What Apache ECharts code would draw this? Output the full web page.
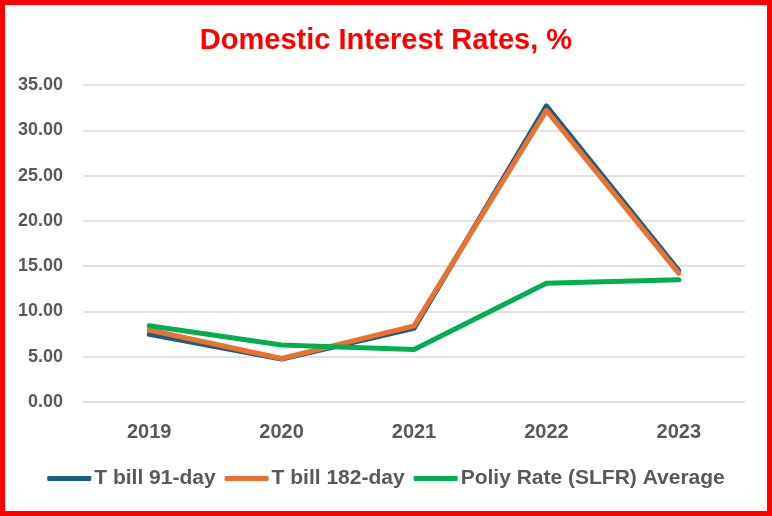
<!DOCTYPE html>
<html><head><meta charset="utf-8">
<script src="https://cdn.jsdelivr.net/npm/echarts@6/dist/echarts.min.js"></script>
<style>html,body{margin:0;padding:0;background:#fff}#c{width:772px;height:516px}</style>
</head><body><div id="c"></div>
<script>
const categories = ['2019','2020','2021','2022','2023'];
const tbill91 = [7.47, 4.75, 8.13, 32.7, 14.5];
const tbill182 = [7.95, 4.8, 8.4, 32.2, 14.2];
const slfr = [8.42, 6.29, 5.8, 13.1, 13.5];
const yTicks = {min: 0, max: 35, interval: 5};

const chart = echarts.init(document.getElementById('c'));
const sans = '"Liberation Sans", Arial, sans-serif';
const mk = (name, data, color) => ({
  name, type: 'line', data, symbol: 'none', smooth: false,
  lineStyle: {width: 5, color, cap: 'round', join: 'round'}, itemStyle: {color}
});
chart.setOption({
  animation: false,
  backgroundColor: '#fff',
  title: {text: 'Domestic Interest Rates, %', left: 'center', top: 21,
    textStyle: {color: '#FF0000', fontSize: 29, fontWeight: 'bold', fontFamily: sans}},
  grid: {left: 83, right: 27, top: 85, bottom: 114},
  legend: {bottom: 22, left: 'center', itemWidth: 44, itemHeight: 5, itemGap: 9,
    icon: 'roundRect',
    textStyle: {color: '#595959', fontSize: 21, fontWeight: 'bold', fontFamily: sans, padding: [0,0,0,-2]}},
  xAxis: {type: 'category', data: categories, boundaryGap: true,
    axisLine: {show: false}, axisTick: {show: false},
    axisLabel: {color: '#595959', fontSize: 20, fontWeight: 'bold', fontFamily: sans, margin: 20}},
  yAxis: {type: 'value', min: yTicks.min, max: yTicks.max, interval: yTicks.interval,
    axisLine: {show: false}, axisTick: {show: false},
    splitLine: {lineStyle: {color: '#D9D9D9', width: 1.5}},
    axisLabel: {color: '#595959', fontSize: 18, fontWeight: 'bold', fontFamily: sans, margin: 20,
      formatter: v => v.toFixed(2)}},
  series: [mk('T bill 91-day', tbill91, '#1F5C80'), mk('T bill 182-day', tbill182, '#E97132'), mk('Poliy Rate (SLFR) Average', slfr, '#00B050')],
  graphic: [{type: 'rect', shape: {x: 2.5, y: 2.5, width: 767, height: 511}, style: {fill: 'none', stroke: '#FF0000', lineWidth: 5}, z: 100}]
});
</script></body></html>
